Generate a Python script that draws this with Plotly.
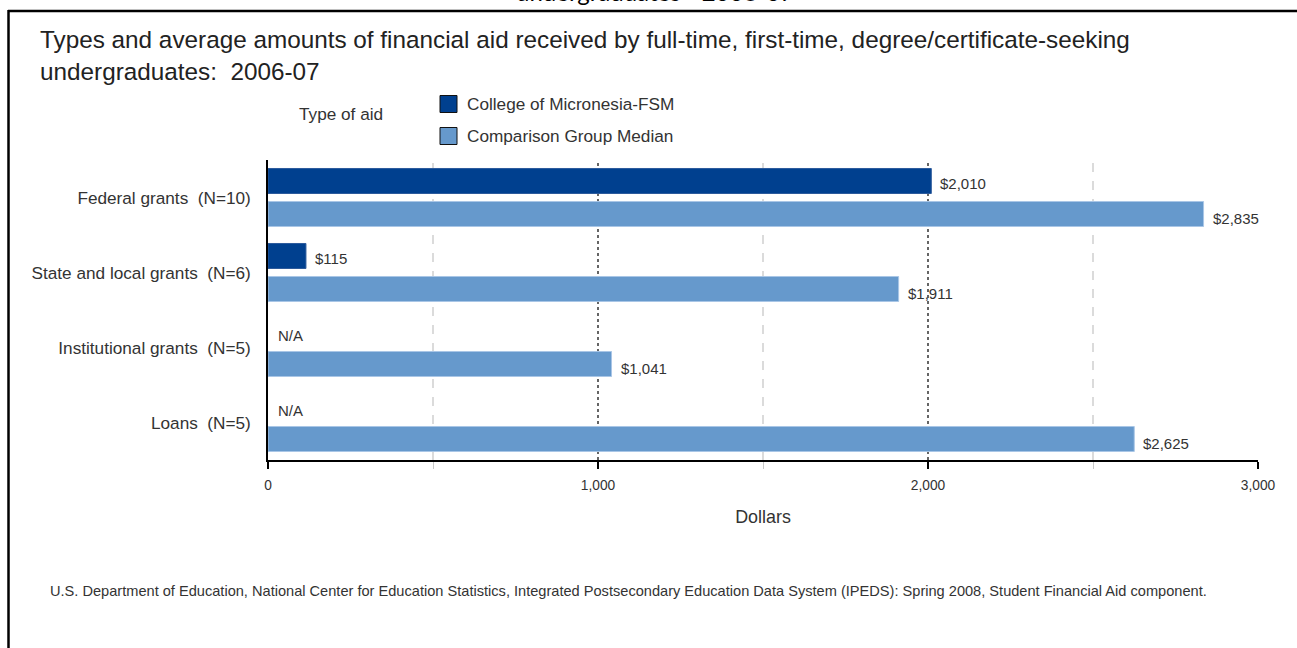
import plotly.graph_objects as go

# ---------------- data ----------------
categories = [
    "Federal grants\u00a0 (N=10)",
    "State and local grants\u00a0 (N=6)",
    "Institutional grants\u00a0 (N=5)",
    "Loans\u00a0 (N=5)",
]
series_names = ["College of Micronesia-FSM", "Comparison Group Median"]
college_values = [2010, 115, None, None]
comparison_values = [2835, 1911, 1041, 2625]
x_tick_values = [0, 1000, 2000, 3000]
x_tick_labels = ["0", "1,000", "2,000", "3,000"]
x_minor_values = [500, 1500, 2500]

title_text = ("Types and average amounts of financial aid received by full-time, first-time, "
              "degree/certificate-seeking<br>undergraduates:  2006-07")
source_text = ("U.S. Department of Education, National Center for Education Statistics, Integrated "
               "Postsecondary Education Data System (IPEDS): Spring 2008, Student Financial Aid component.")
clipped_text = "undergraduates - 2006-07"

# ---------------- style ----------------
DARK = "#00408F"
LIGHT = "#6699CC"
TEXT = "#333333"
FONT = "Liberation Sans, Arial, sans-serif"
W, H = 1297, 648
ML, MR, MT, MB = 268, 39, 160, 188
PW, PH = W - ML - MR, H - MT - MB


def px(x):
    return (x - ML) / PW


def py(y):
    return 1 - (y - MT) / PH


fig = go.Figure()
fig.add_trace(go.Bar(
    y=categories, x=college_values, orientation="h", name=series_names[0],
    marker=dict(color=DARK, line=dict(color="#2d5b9c", width=1)), showlegend=False,
))
fig.add_trace(go.Bar(
    y=categories, x=comparison_values, orientation="h", name=series_names[1],
    marker=dict(color=LIGHT, line=dict(color="#a9c6e6", width=1)), showlegend=False,
))

annotations = []
# value labels
for cat, v in zip(categories, college_values):
    annotations.append(dict(
        x=v if v is not None else 0, y=cat, xref="x", yref="y",
        text=f"${v:,}" if v is not None else "N/A",
        showarrow=False, xanchor="left", yanchor="middle",
        xshift=7 if v is not None else 8, yshift=14.5 if v is not None else 12.5,
        font=dict(family=FONT, size=15, color=TEXT),
    ))
for cat, v in zip(categories, comparison_values):
    annotations.append(dict(
        x=v, y=cat, xref="x", yref="y", text=f"${v:,}",
        showarrow=False, xanchor="left", yanchor="middle",
        xshift=7, yshift=-20.5,
        font=dict(family=FONT, size=15, color=TEXT),
    ))

# legend (manual)
legend_rows = [(series_names[0], DARK, 104), (series_names[1], LIGHT, 136)]
shapes = []
for name, col, yc in legend_rows:
    shapes.append(dict(type="rect", xref="paper", yref="paper",
                       x0=px(440), x1=px(457), y0=py(yc - 8.5), y1=py(yc + 8.5),
                       fillcolor=col, line=dict(color="#111111", width=1)))
    annotations.append(dict(x=px(465), y=py(yc), xref="paper", yref="paper", text=name,
                            showarrow=False, xanchor="left", yanchor="middle",
                            font=dict(family=FONT, size=17.2, color=TEXT)))
annotations.append(dict(x=px(341), y=py(114), xref="paper", yref="paper", text="Type of aid",
                        showarrow=False, xanchor="center", yanchor="middle",
                        font=dict(family=FONT, size=17.2, color=TEXT)))

# source note
annotations.append(dict(x=px(48), y=py(591), xref="paper", yref="paper", text=source_text,
                        showarrow=False, xanchor="left", yanchor="middle",
                        font=dict(family=FONT, size=14.6, color=TEXT)))
# clipped text at very top
annotations.append(dict(x=px(655), y=py(-8), xref="paper", yref="paper", text=clipped_text,
                        showarrow=False, xanchor="center", yanchor="middle",
                        font=dict(family="Lato, Open Sans, sans-serif", size=24, color="#000000")))

# gridlines
for gx in [1000, 2000]:
    shapes.append(dict(type="line", xref="x", yref="paper", x0=gx, x1=gx, y0=0, y1=1,
                       line=dict(color="#333333", width=1.5, dash="dot"), layer="below"))
for gx in x_minor_values:
    shapes.append(dict(type="line", xref="x", yref="paper", x0=gx, x1=gx, y0=0, y1=1,
                       line=dict(color="#c8c8c8", width=1.3, dash="dash"), layer="below"))

# frame
shapes.append(dict(type="line", xref="paper", yref="paper", x0=px(8), x1=px(1297),
                   y0=py(11), y1=py(11), line=dict(color="#000000", width=2.5)))
shapes.append(dict(type="line", xref="paper", yref="paper", x0=px(8.5), x1=px(8.5),
                   y0=py(10), y1=py(648), line=dict(color="#000000", width=2.5)))

fig.update_layout(
    width=W, height=H,
    margin=dict(l=ML, r=MR, t=MT, b=MB),
    paper_bgcolor="white", plot_bgcolor="white",
    barmode="group", bargap=0.12, bargroupgap=0.242,
    title=dict(text=title_text, x=40 / W, xanchor="left", xref="container",
               y=1 - 48 / H, yanchor="middle", yref="container",
               font=dict(family=FONT, size=24.3, color="#222222")),
    annotations=annotations, shapes=shapes,
    xaxis=dict(range=[0, 3000], tickvals=x_tick_values, ticktext=x_tick_labels,
               showline=True, linecolor="#000000", linewidth=2, ticks="outside", ticklen=7,
               tickwidth=1.5, tickcolor="#000000", showgrid=False, zeroline=False,
               ticklabelstandoff=4,
               tickfont=dict(family=FONT, size=13.75, color=TEXT),
               minor=dict(tickvals=x_minor_values, ticks="outside", ticklen=7,
                          tickcolor="#c8c8c8", tickwidth=1.2, showgrid=False),
               title=dict(text="Dollars", standoff=19, font=dict(family=FONT, size=17.9, color=TEXT))),
    yaxis=dict(autorange="reversed", showline=True, linecolor="#000000", linewidth=1.5,
               ticks="", showgrid=False, zeroline=False, ticklabelstandoff=12,
               tickfont=dict(family=FONT, size=17.2, color=TEXT)),
)

fig.write_html("out.html", config={"displayModeBar": False},
               post_script="document.body.style.margin='0';document.body.style.padding='0';")
